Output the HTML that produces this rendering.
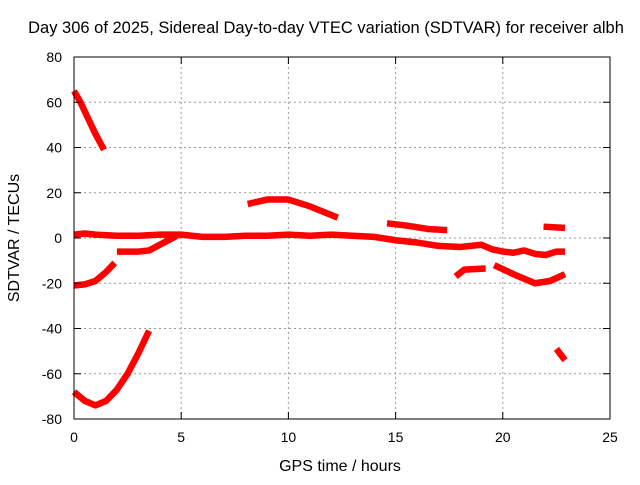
<!DOCTYPE html>
<html><head><meta charset="utf-8"><style>
body{margin:0;background:#fff;}
svg text{font-family:"Liberation Sans",sans-serif;font-size:14px;fill:#000;}
</style></head><body>
<svg id="chart" width="640" height="480">
<text x="326" y="33" text-anchor="middle" style="font-size:16.5px">Day 306 of 2025, Sidereal Day-to-day VTEC variation (SDTVAR) for receiver albh</text>
<text x="340" y="471" text-anchor="middle" style="font-size:16px">GPS time / hours</text>
<text transform="translate(19,238) rotate(-90)" text-anchor="middle" style="font-size:16px">SDTVAR / TECUs</text>
<g id="grid"></g><g id="series"></g>
<rect x="74" y="57" width="536" height="362" fill="none" stroke="#000" stroke-width="1"/>
<g id="ticks"></g>
</svg>
<script>
const xTicks=[0,5,10,15,20,25];
const yTicks=[80,60,40,20,0,-20,-40,-60,-80];
const segA=[[0,65],[0.3,60],[0.7,52],[1.0,46],[1.4,39]];
const segMain=[[0,1.5],[0.5,2],[1,1.5],[2,1],[3,1],[4,1.5],[5,1.5],[6,0.5],[7,0.5],[8,1],[9,1],[10,1.5],[11,1],[12,1.5],[13,1],[14,0.5],[15,-1],[16,-2],[17,-3.5],[18,-4],[19,-3],[19.5,-5],[20,-6],[20.5,-6.5],[21,-5.5],[21.5,-7],[22,-7.5],[22.5,-6],[22.9,-6]];
const segB=[[14.6,6.5],[15.5,5.5],[16.5,4],[17.4,3.5]];
const segC=[[8.1,15],[9,17],[10,17],[11,14],[12.3,9]];
const segD=[[0,-21],[0.5,-20.5],[1,-19],[1.5,-15],[1.9,-11]];
const segE=[[2,-6],[3,-6],[3.5,-5.5],[4,-3],[4.5,-0.5],[4.8,1]];
const segF=[[0,-68],[0.5,-72],[1,-74],[1.5,-72],[2,-67],[2.5,-60],[3,-51],[3.5,-41]];
const segG=[[22.5,-49],[22.9,-54]];
const segH=[[21.9,5],[22.9,4.5]];
const segI=[[17.8,-17],[18.2,-14],[19.2,-13.5]];
const segJ=[[19.6,-12],[20.5,-16],[21.5,-20],[22.2,-19],[22.9,-16]];
const segments=[segA,segMain,segB,segC,segD,segE,segF,segG,segH,segI,segJ];
const X=h=>74+h*536/25, Y=v=>238-v*362/160;
const NS="http://www.w3.org/2000/svg";
const grid=document.getElementById('grid'),ticks=document.getElementById('ticks'),ser=document.getElementById('series');
function mk(t,a,p){const e=document.createElementNS(NS,t);for(const k in a)e.setAttribute(k,a[k]);p.appendChild(e);return e;}
xTicks.forEach(t=>{const x=X(t);
 if(t>0&&t<25){const g=mk('line',{x1:x,x2:x,y1:57,y2:419,stroke:'#999','stroke-dasharray':'2,3'},grid);
 
 }
 mk('line',{x1:x,x2:x,y1:419,y2:412,stroke:'#000'},ticks);mk('line',{x1:x,x2:x,y1:57,y2:64,stroke:'#000'},ticks);
 const l=mk('text',{x:x,y:442,'text-anchor':'middle'},ticks);l.textContent=t;
 
 });
yTicks.forEach(t=>{const y=Y(t);
 if(t>-80&&t<80){const g=mk('line',{x1:74,x2:610,y1:y,y2:y,stroke:'#999','stroke-dasharray':'2,3'},grid);
 
 }
 mk('line',{x1:74,x2:81,y1:y,y2:y,stroke:'#000'},ticks);mk('line',{x1:610,x2:603,y1:y,y2:y,stroke:'#000'},ticks);
 const l=mk('text',{x:62,y:y+5,'text-anchor':'end'},ticks);l.textContent=t;
 
 });
segments.forEach(s=>{const p=mk('polyline',{points:s.map(d=>X(d[0])+','+Y(d[1])).join(' '),fill:'none',stroke:'#f00','stroke-width':6.5,'stroke-linejoin':'round','stroke-linecap':'butt'},ser);
 
 });
</script>
</body></html>
